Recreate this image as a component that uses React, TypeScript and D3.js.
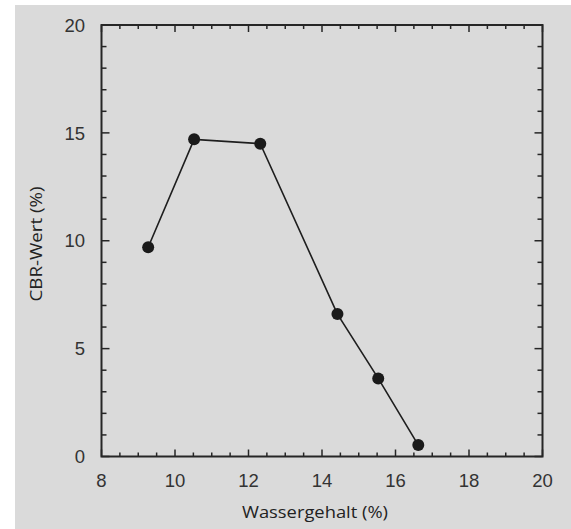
import React, { useRef, useEffect } from 'react';
import * as d3 from 'd3';

// Measured values (water content vs CBR)
const wassergehalt = [9.27, 10.52, 12.32, 14.42, 15.53, 16.62];
const cbrWert = [9.7, 14.7, 14.5, 6.6, 3.62, 0.53];
const xTickValues = [8, 10, 12, 14, 16, 18, 20];
const yTickValues = [0, 5, 10, 15, 20];

const App = () => {
  const svgRef = useRef<SVGSVGElement>(null);

  useEffect(() => {
    const svg = d3.select(svgRef.current);
    svg.selectAll('*').remove();

    const W = 571;
    const H = 529;
    const margin = { left: 101.5, top: 25, right: 571 - 542.5, bottom: 529 - 456.5 };

    // gray backdrop
    svg.append('rect')
      .attr('x', 15).attr('y', 5)
      .attr('width', W - 15).attr('height', H - 5)
      .attr('fill', '#dadada');

    const x = d3.scaleLinear().domain([8, 20]).range([margin.left, W - margin.right]);
    const y = d3.scaleLinear().domain([0, 20]).range([H - margin.bottom, margin.top]);

    const frameColor = '#262626';
    const x0 = x(8), x1 = x(20), y0 = y(0), y1 = y(20);

    // ticks on all four sides, pointing inward
    const xMinor = d3.range(8, 20.01, 0.5);
    const yMinor = d3.range(0, 20.01, 1);
    const tg = svg.append('g').attr('stroke', frameColor).attr('stroke-width', 1.5);
    xMinor.forEach(v => {
      const len = v % 2 === 0 ? 7 : 4;
      tg.append('line').attr('x1', x(v)).attr('x2', x(v)).attr('y1', y0).attr('y2', y0 - len);
      tg.append('line').attr('x1', x(v)).attr('x2', x(v)).attr('y1', y1).attr('y2', y1 + len);
    });
    yMinor.forEach(v => {
      const len = v % 5 === 0 ? 8 : 5;
      tg.append('line').attr('y1', y(v)).attr('y2', y(v)).attr('x1', x0).attr('x2', x0 + len);
      tg.append('line').attr('y1', y(v)).attr('y2', y(v)).attr('x1', x1).attr('x2', x1 - len);
    });

    // frame
    svg.append('rect')
      .attr('x', x0).attr('y', y1)
      .attr('width', x1 - x0).attr('height', y0 - y1)
      .attr('fill', 'none')
      .attr('stroke', frameColor)
      .attr('stroke-width', 2);

    // tick labels
    svg.append('g')
      .selectAll('text')
      .data(xTickValues)
      .join('text')
      .attr('x', d => x(d))
      .attr('y', 487)
      .attr('text-anchor', 'middle')
      .style('font-family', 'Liberation Sans, Arial, sans-serif')
      .style('font-size', '18.5px')
      .style('fill', '#333')
      .text(d => d);

    svg.append('g')
      .selectAll('text')
      .data(yTickValues)
      .join('text')
      .attr('x', 85)
      .attr('y', d => y(d))
      .attr('dy', '0.36em')
      .attr('text-anchor', 'end')
      .style('font-family', 'Liberation Sans, Arial, sans-serif')
      .style('font-size', '18.5px')
      .style('fill', '#333')
      .text(d => d);

    // axis titles
    svg.append('text')
      .attr('x', 315)
      .attr('y', 518)
      .attr('text-anchor', 'middle')
      .attr('textLength', 146)
      .attr('lengthAdjust', 'spacingAndGlyphs')
      .style('font-family', 'Open Sans, sans-serif')
      .style('font-size', '17px')
      .style('fill', '#222')
      .text('Wassergehalt (%)');

    svg.append('text')
      .attr('transform', 'translate(42,244) rotate(-90)')
      .attr('text-anchor', 'middle')
      .attr('textLength', 115)
      .attr('lengthAdjust', 'spacingAndGlyphs')
      .style('font-family', 'Open Sans, sans-serif')
      .style('font-size', '17px')
      .style('fill', '#222')
      .text('CBR-Wert (%)');

    // data line and markers
    const pts = wassergehalt.map((w, i) => [w, cbrWert[i]] as [number, number]);
    const line = d3.line<[number, number]>().x(d => x(d[0])).y(d => y(d[1]));
    svg.append('path')
      .attr('d', line(pts))
      .attr('fill', 'none')
      .attr('stroke', '#1e1e1e')
      .attr('stroke-width', 1.6);

    svg.append('g')
      .selectAll('circle')
      .data(pts)
      .join('circle')
      .attr('cx', d => x(d[0]))
      .attr('cy', d => y(d[1]))
      .attr('r', 6)
      .attr('fill', '#1a1a1a');
  }, []);

  return (
    <svg
      ref={svgRef}
      width={571}
      height={529}
      style={{ position: 'absolute', left: 0, top: 0, background: '#fff' }}
    />
  );
};

export default App;
